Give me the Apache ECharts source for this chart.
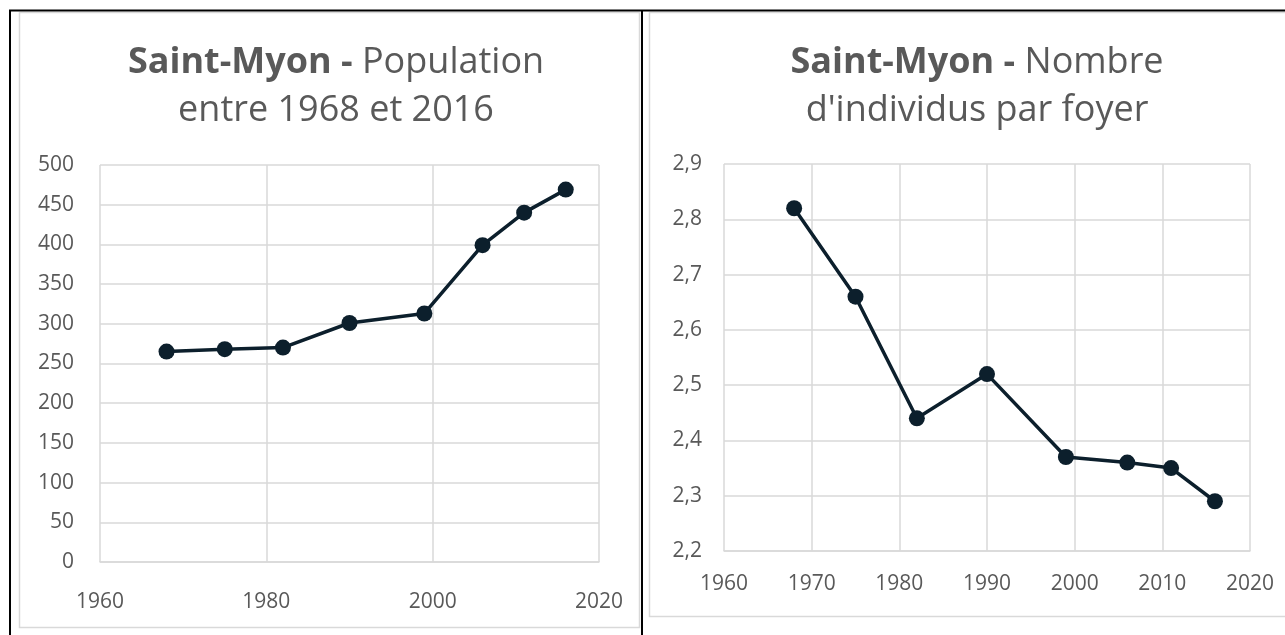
<!DOCTYPE html>
<html>
<head>
<meta charset="utf-8">
<script src="https://cdn.jsdelivr.net/npm/echarts@6/dist/echarts.min.js"></script>
<style>
html,body{margin:0;padding:0;background:#fff;}
#c{width:1285px;height:635px;}
</style>
</head>
<body>
<div id="c"></div>
<script>
// ---- data ----
const years = [1968, 1975, 1982, 1990, 1999, 2006, 2011, 2016];
const population = [265, 268, 270, 301, 313, 399, 440, 469];
const perHousehold = [2.82, 2.66, 2.44, 2.52, 2.37, 2.36, 2.35, 2.29];
const popTicks = [0, 50, 100, 150, 200, 250, 300, 350, 400, 450, 500];
const hhTicks = [2.2, 2.3, 2.4, 2.5, 2.6, 2.7, 2.8, 2.9];
const yearTicksLeft = [1960, 1980, 2000, 2020];
const yearTicksRight = [1960, 1970, 1980, 1990, 2000, 2010, 2020];

const txt = '#595959';
const gridCol = '#d9d9d9';
const lineCol = '#0c1f2c';
const fontFam = '"Open Sans", "Noto Sans", sans-serif';
const tickFont = 21;

const chart = echarts.init(document.getElementById('c'), null, {renderer: 'canvas'});

function titleOpt(bold, rest, line2, cx) {
  return {
    text: '{b|' + bold + '}' + rest + '\n' + line2,
    left: cx, top: 39, textAlign: 'center', padding: 0,
    textStyle: {
      fontFamily: fontFam, fontSize: 36, fontWeight: 'normal', color: txt, lineHeight: 48,
      rich: { b: { fontFamily: fontFam, fontSize: 36, fontWeight: 'bold', color: txt, lineHeight: 48 } }
    }
  };
}

function xAxisOpt(gi, ticks, margin) {
  return {
    type: 'value', gridIndex: gi, min: ticks[0], max: ticks[ticks.length - 1],
    interval: ticks[1] - ticks[0],
    axisLine: { show: true, lineStyle: { color: gridCol, width: 1.5 } },
    axisTick: { show: false },
    splitLine: { show: true, lineStyle: { color: gridCol, width: 1.5 } },
    axisLabel: { color: txt, fontSize: tickFont, fontFamily: fontFam, margin: margin, formatter: v => String(v) }
  };
}

function yAxisOpt(gi, ticks, interval, fmt, margin) {
  return {
    type: 'value', gridIndex: gi, min: ticks[0], max: ticks[ticks.length - 1], interval: interval,
    axisLine: { show: false }, axisTick: { show: false },
    splitLine: { show: true, lineStyle: { color: gridCol, width: 1.5 } },
    axisLabel: { color: txt, fontSize: tickFont, fontFamily: fontFam, margin: margin, formatter: fmt }
  };
}

const seriesStyle = {
  type: 'line', symbol: 'circle', symbolSize: 16,
  lineStyle: { color: lineCol, width: 3.5 },
  itemStyle: { color: lineCol },
  animation: false
};

chart.setOption({
  animation: false,
  graphic: [
    { type: 'rect', shape: { x: 19.5, y: 12.5, width: 620, height: 615 }, style: { fill: '#fff', stroke: gridCol, lineWidth: 1.5 }, z: -10 },
    { type: 'rect', shape: { x: 649.5, y: 12.5, width: 700, height: 604 }, style: { fill: '#fff', stroke: gridCol, lineWidth: 1.5 }, z: -10 },
    { type: 'line', shape: { x1: 9, y1: 10.5, x2: 1285, y2: 10.5 }, style: { stroke: '#000', lineWidth: 2 }, z: 10 },
    { type: 'line', shape: { x1: 10, y1: 10, x2: 10, y2: 635 }, style: { stroke: '#000', lineWidth: 2 }, z: 10 },
    { type: 'line', shape: { x1: 642, y1: 10, x2: 642, y2: 635 }, style: { stroke: '#000', lineWidth: 2 }, z: 10 }
  ],
  title: [
    titleOpt('Saint-Myon -', ' Population', 'entre 1968 et 2016', 336),
    titleOpt('Saint-Myon -', ' Nombre', "d'individus par foyer", 977)
  ],
  grid: [
    { left: 100, top: 165, width: 499, height: 397 },
    { left: 724, top: 164, width: 526, height: 387 }
  ],
  xAxis: [ xAxisOpt(0, yearTicksLeft, 30), xAxisOpt(1, yearTicksRight, 23) ],
  yAxis: [
    yAxisOpt(0, popTicks, popTicks[1] - popTicks[0], v => String(v), 26),
    yAxisOpt(1, hhTicks, 0.1, v => v.toFixed(1).replace('.', ','), 22)
  ],
  series: [
    Object.assign({}, seriesStyle, { xAxisIndex: 0, yAxisIndex: 0, data: years.map((y, i) => [y, population[i]]) }),
    Object.assign({}, seriesStyle, { xAxisIndex: 1, yAxisIndex: 1, data: years.map((y, i) => [y, perHousehold[i]]) })
  ]
});
</script>
</body>
</html>
